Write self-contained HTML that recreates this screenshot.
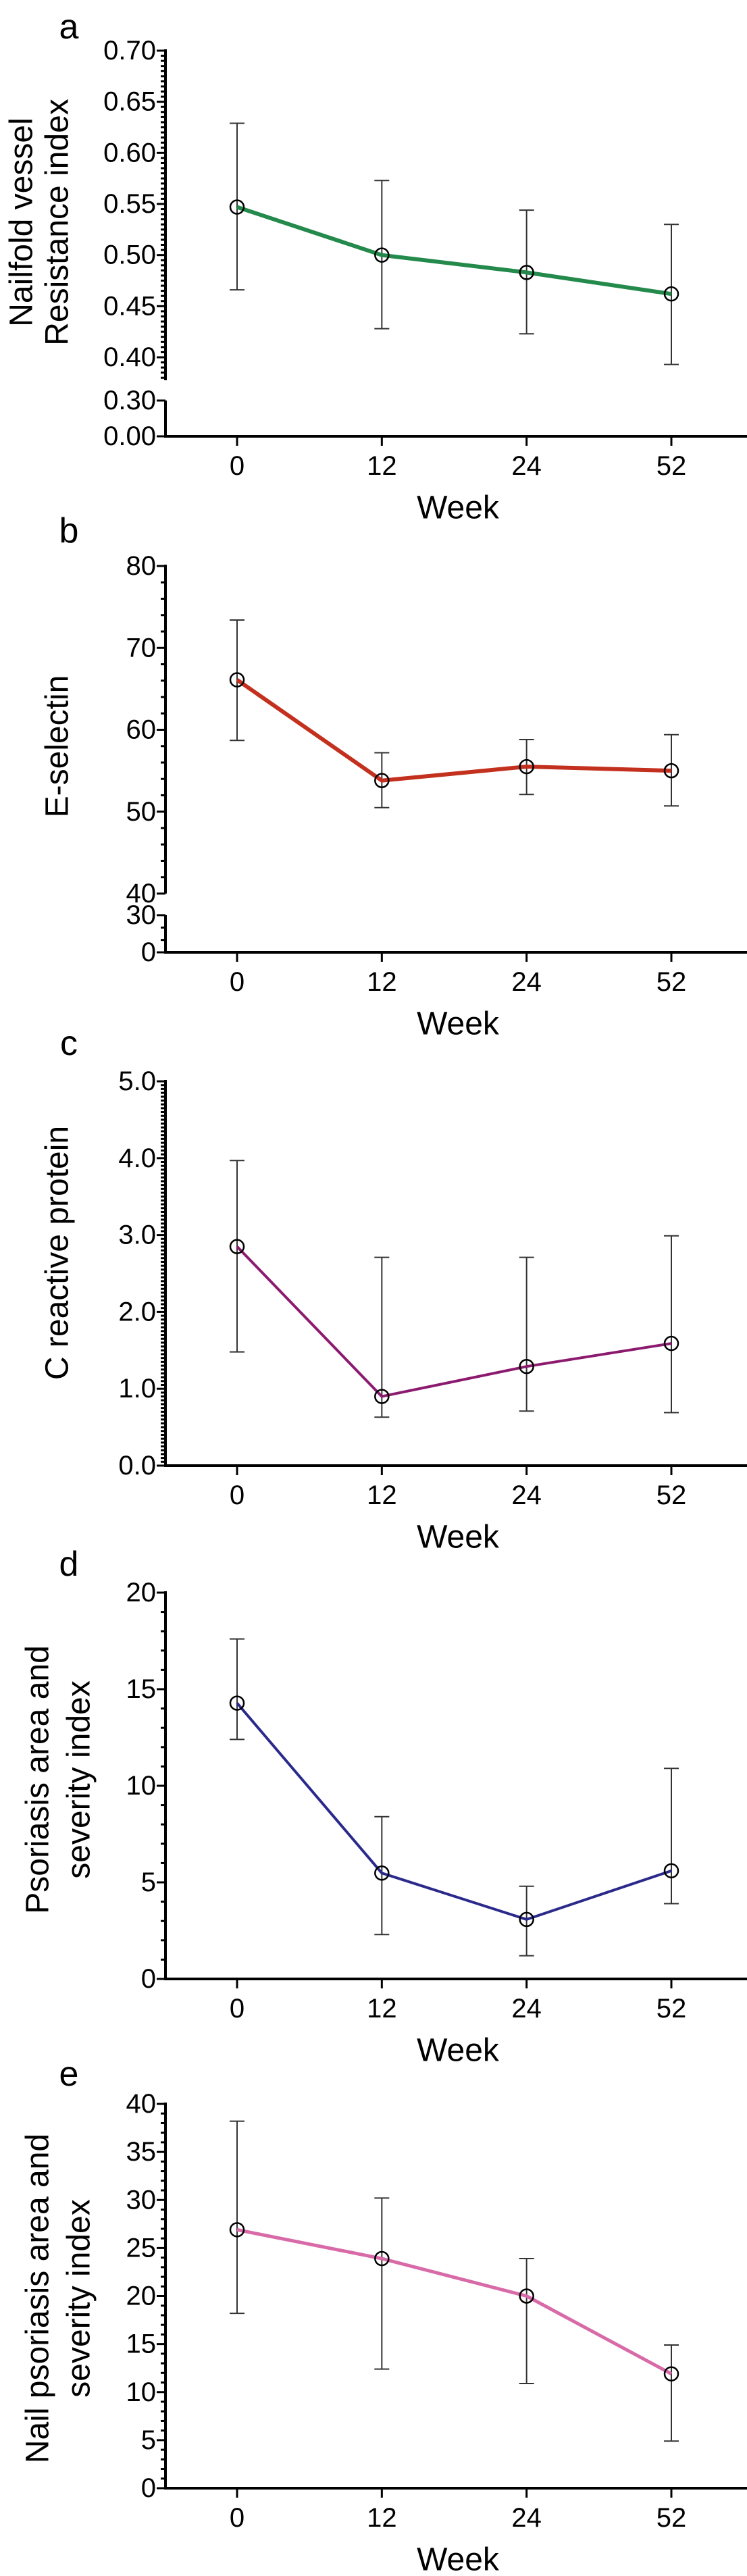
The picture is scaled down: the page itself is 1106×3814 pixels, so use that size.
<!DOCTYPE html>
<html><head><meta charset="utf-8"><style>
html,body{margin:0;padding:0;background:#fff;}
svg{display:block;font-family:"Liberation Sans",Arial,sans-serif;}
</style></head><body>
<svg id="fig" width="1106" height="3814" viewBox="0 0 1106 3814" xmlns="http://www.w3.org/2000/svg"></svg>
<script>
const weeks = ["0","12","24","52"];
const aMean = [0.547, 0.500, 0.483, 0.462];
const aUpper = [0.629, 0.573, 0.544, 0.530];
const aLower = [0.466, 0.428, 0.423, 0.393];
const aTicks = ["0.70","0.65","0.60","0.55","0.50","0.45","0.40"];
const bMean = [66.1, 53.8, 55.5, 55.0];
const bUpper = [73.4, 57.2, 58.8, 59.4];
const bLower = [58.7, 50.5, 52.1, 50.7];
const bTicks = ["80","70","60","50","40"];
const cMean = [2.85, 0.90, 1.29, 1.59];
const cUpper = [3.97, 2.71, 2.71, 2.99];
const cLower = [1.48, 0.63, 0.71, 0.69];
const cTicks = ["5.0","4.0","3.0","2.0","1.0","0.0"];
const dMean = [14.28, 5.48, 3.08, 5.6];
const dUpper = [17.6, 8.4, 4.8, 10.9];
const dLower = [12.4, 2.3, 1.2, 3.9];
const dTicks = ["20","15","10","5","0"];
const eMean = [26.9, 23.9, 20.0, 11.9];
const eUpper = [38.2, 30.2, 23.9, 14.9];
const eLower = [18.2, 12.4, 10.9, 4.9];
const eTicks = ["40","35","30","25","20","15","10","5","0"];

const NS = "http://www.w3.org/2000/svg";
const fig = document.getElementById('fig');
function mk(tag, attrs, parent){
  const e = document.createElementNS(NS, tag);
  for (const k in attrs) e.setAttribute(k, attrs[k]);
  (parent||fig).appendChild(e); return e;
}
const AX = 245;
function xPos(i){ return 351 + i * (994 - 351) / (weeks.length - 1); }

function panel(p){
  const g = mk('g', {});
  
  
  const y = v => p.yTop + (p.hi - v) / (p.hi - p.lo) * (p.yLo - p.yTop);
  const L = mk('text', {x:102, y:p.letterY, 'font-size':52, 'text-anchor':'middle', 'dominant-baseline':'central'}, g);
  L.textContent = p.id;
  
  
  p.title.forEach((t, k) => {
    const tx = p.titleX[k];
    const T = mk('text', {x:tx, y:p.titleY, 'font-size':48, 'text-anchor':'middle', 'dominant-baseline':'central', transform:`rotate(-90 ${tx} ${p.titleY})`}, g);
    T.textContent = t;
    
    
  });
  const ya = mk('line', {x1:AX, x2:AX, y1:p.yTop - 2, y2:p.axisEnd, stroke:'#000', 'stroke-width':4}, g);
  
  
  const nMinor = Math.round((p.hi - p.lo) / p.minor);
  const step = (p.yLo - p.yTop) / nMinor;
  for (let k = 0; p.yTop + k * step <= p.axisEnd + 0.5; k++){
    const yy = p.yTop + k * step;
    const major = k % p.majorEvery === 0;
    mk('line', {x1:AX - (major ? 13 : 7), x2:AX, y1:yy, y2:yy, stroke:'#000', 'stroke-width':3}, g);
  }
  p.ticks.forEach((t, k) => {
    const v = p.hi - k * (p.hi - p.lo) / (p.ticks.length - 1);
    const T = mk('text', {x:AX - 14, y:y(v), 'font-size':40, 'text-anchor':'end', 'dominant-baseline':'central'}, g);
    T.textContent = t;
    
    
  });
  let xAxisY = p.yLo;
  if (p.brk){
    const lw = p.brk;
    xAxisY = lw.y0;
    mk('line', {x1:AX, x2:AX, y1:lw.yTop, y2:lw.y0, stroke:'#000', 'stroke-width':4}, g);
    lw.tickVals.forEach(v => {
      const yy = lw.y0 - v / lw.top * (lw.y0 - lw.yTop);
      mk('line', {x1:AX - (v === lw.top || v === 0 ? 13 : 7), x2:AX, y1:yy, y2:yy, stroke:'#000', 'stroke-width':3}, g);
    });
    lw.labels.forEach((t, k) => {
      const yy = lw.y0 - lw.labelVals[k] / lw.top * (lw.y0 - lw.yTop);
      const T = mk('text', {x:AX - 14, y:yy, 'font-size':40, 'text-anchor':'end', 'dominant-baseline':'central'}, g);
      T.textContent = t;
      
      
    });
  }
  const xa = mk('line', {x1:AX - 2, x2:1106, y1:xAxisY, y2:xAxisY, stroke:'#000', 'stroke-width':4}, g);
  
  
  weeks.forEach((w, i) => {
    mk('line', {x1:xPos(i), x2:xPos(i), y1:xAxisY, y2:xAxisY + 14, stroke:'#000', 'stroke-width':3}, g);
    const T = mk('text', {x:xPos(i), y:xAxisY + 44, 'font-size':40, 'text-anchor':'middle', 'dominant-baseline':'central'}, g);
    T.textContent = w;
    
    
  });
  const W = mk('text', {x:678, y:xAxisY + 106, 'font-size':48, 'text-anchor':'middle', 'dominant-baseline':'central'}, g);
  W.textContent = 'Week';
  
  
  p.mean.forEach((m, i) => {
    const x = xPos(i);
    const eb = mk('g', {stroke:'#333', 'stroke-width':2}, g);
    
    
    mk('line', {x1:x, x2:x, y1:y(p.up[i]), y2:y(p.low[i])}, eb);
    mk('line', {x1:x - 11, x2:x + 11, y1:y(p.up[i]), y2:y(p.up[i])}, eb);
    mk('line', {x1:x - 11, x2:x + 11, y1:y(p.low[i]), y2:y(p.low[i])}, eb);
  });
  const ln = mk('polyline', {points:p.mean.map((m, i) => xPos(i) + ',' + y(m)).join(' '), fill:'none', stroke:p.color, 'stroke-width':p.lw, 'stroke-linejoin':'round'}, g);
  
  
  p.mean.forEach((m, i) => {
    const c = mk('circle', {cx:xPos(i), cy:y(m), r:10, fill:'none', stroke:'#000', 'stroke-width':2.5}, g);
    
    
  });
}

panel({id:'a', letterY:40, title:['Nailfold vessel','Resistance index'], titleX:[32,85], titleY:329,
  hi:0.70, lo:0.40, yTop:75, yLo:529, axisEnd:563, minor:0.005, majorEvery:10, ticks:aTicks,
  brk:{top:0.30, yTop:593, y0:646, tickVals:[0.30, 0], labels:['0.30','0.00'], labelVals:[0.30, 0]},
  mean:aMean, up:aUpper, low:aLower, color:'#238a4c', lw:6});
panel({id:'b', letterY:786, title:['E-selectin'], titleX:[85], titleY:1105,
  hi:80, lo:40, yTop:838, yLo:1323, axisEnd:1323, minor:2, majorEvery:5, ticks:bTicks,
  brk:{top:30, yTop:1355, y0:1410, tickVals:[30, 20, 10, 0], labels:['30','0'], labelVals:[30, 0]},
  mean:bMean, up:bUpper, low:bLower, color:'#c3301e', lw:6});
panel({id:'c', letterY:1545, title:['C reactive protein'], titleX:[85], titleY:1855,
  hi:5, lo:0, yTop:1601, yLo:2170, axisEnd:2170, minor:0.05, majorEvery:20, ticks:cTicks,
  mean:cMean, up:cUpper, low:cLower, color:'#8c1a6e', lw:4});
panel({id:'d', letterY:2316, title:['Psoriasis area and','severity index'], titleX:[56,117], titleY:2635,
  hi:20, lo:0, yTop:2358, yLo:2930, axisEnd:2930, minor:1, majorEvery:5, ticks:dTicks,
  mean:dMean, up:dUpper, low:dLower, color:'#2b2a8c', lw:4});
panel({id:'e', letterY:3071, title:['Nail psoriasis area and','severity index'], titleX:[56,117], titleY:3403,
  hi:40, lo:0, yTop:3115, yLo:3684, axisEnd:3684, minor:1, majorEvery:5, ticks:eTicks,
  mean:eMean, up:eUpper, low:eLower, color:'#d86aa8', lw:5});
</script>
</body></html>
